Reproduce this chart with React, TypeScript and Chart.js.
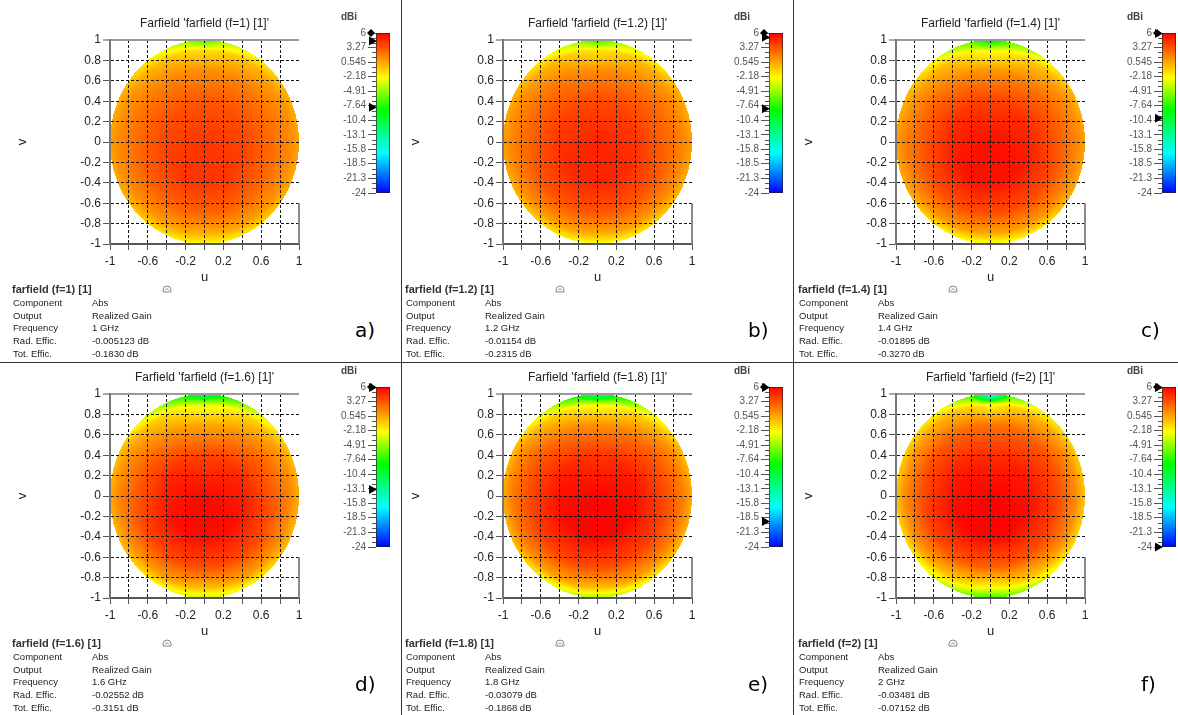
import React, { useEffect, useRef } from 'react';
import { Chart, registerables } from 'chart.js';

Chart.register(...registerables);

// ---------------- data ----------------
const frequencies = ['1', '1.2', '1.4', '1.6', '1.8', '2'];
const frequencyLabels = ['1 GHz', '1.2 GHz', '1.4 GHz', '1.6 GHz', '1.8 GHz', '2 GHz'];
const radEfficiency = ['-0.005123 dB', '-0.01154 dB', '-0.01895 dB', '-0.02552 dB', '-0.03079 dB', '-0.03481 dB'];
const totEfficiency = ['-0.1830 dB', '-0.2315 dB', '-0.3270 dB', '-0.3151 dB', '-0.1868 dB', '-0.07152 dB'];
const panelLetters = ['a)', 'b)', 'c)', 'd)', 'e)', 'f)'];

const uTickValues = [-1, -0.8, -0.6, -0.4, -0.2, 0, 0.2, 0.4, 0.6, 0.8, 1];
const uTickLabels = ['-1', '', '-0.6', '', '-0.2', '', '0.2', '', '0.6', '', '1'];
const vTickValues = [-1, -0.8, -0.6, -0.4, -0.2, 0, 0.2, 0.4, 0.6, 0.8, 1];
const vTickLabels = ['-1', '-0.8', '-0.6', '-0.4', '-0.2', '0', '0.2', '0.4', '0.6', '0.8', '1'];

const colorbarMin = -24;
const colorbarMax = 6;
const colorbarTickValues = [6, 3.27, 0.545, -2.18, -4.91, -7.64, -10.4, -13.1, -15.8, -18.5, -21.3, -24];
const colorbarTickLabels = ['6', '3.27', '0.545', '-2.18', '-4.91', '-7.64', '-10.4', '-13.1', '-15.8', '-18.5', '-21.3', '-24'];

// max / min markers shown on the colour bar (dBi)
const gainMaxMarker = [4.5, 5.2, 5.9, 5.9, 5.9, 5.9];
const gainMinMarker = [-7.9, -8.2, -10.0, -13.2, -19.2, -24];

// gain samples (dBi) on rings of the u-v disk
const sampleRadii = [0.4, 0.7, 0.9, 1.0];
const sampleAnglesDeg = [0, 30, 60, 78, 90, 102, 120, 150, 180, 210, 240, 270, 300, 330];
const gainCentre = [4.3, 4.9, 5.6, 5.8, 5.9, 6.0];

const gainF10 = [
  [3.8, 3.5, 3.3, 3.2, 3.2, 3.2, 3.3, 3.5, 3.8, 4.1, 4.3, 4.3, 4.3, 4.1],
  [2.5, 2.2, 1.7, 1.4, 1.3, 1.4, 1.7, 2.2, 2.5, 2.8, 2.8, 2.7, 2.8, 2.7],
  [1.6, 1.1, -0.2, -1.1, -1.5, -1.1, -0.2, 1.1, 1.6, 1.4, 0.8, 0.1, 0.8, 1.4],
  [0.7, 0.0, -2.6, -4.6, -7.5, -4.6, -2.6, 0.0, 0.7, 0.2, -1.5, -2.6, -1.5, 0.2],
];
const gainF12 = [
  [4.3, 4.0, 3.7, 3.6, 3.6, 3.6, 3.7, 4.0, 4.3, 4.6, 4.8, 4.8, 4.8, 4.6],
  [2.8, 2.5, 1.9, 1.5, 1.4, 1.5, 1.9, 2.5, 2.8, 3.2, 3.2, 3.1, 3.2, 3.2],
  [1.7, 1.2, -0.1, -1.2, -1.7, -1.2, -0.1, 1.2, 1.7, 1.5, 0.9, 0.2, 0.9, 1.5],
  [0.8, 0.0, -2.8, -4.8, -8.0, -4.8, -2.8, 0.0, 0.8, 0.1, -1.7, -2.8, -1.7, 0.1],
];
const gainF14 = [
  [4.9, 4.6, 4.1, 3.9, 3.9, 3.9, 4.1, 4.6, 4.9, 5.3, 5.5, 5.5, 5.5, 5.3],
  [3.2, 2.7, 1.7, 1.2, 1.0, 1.2, 1.7, 2.7, 3.2, 3.6, 3.5, 3.4, 3.5, 3.6],
  [1.8, 1.1, -0.6, -2.2, -2.9, -2.2, -0.6, 1.1, 1.8, 1.6, 1.0, 0.3, 1.0, 1.6],
  [0.8, -0.2, -3.6, -6.3, -10.0, -6.3, -3.6, -0.2, 0.8, 0.2, -1.9, -3.2, -1.9, 0.2],
];
const gainF16 = [
  [5.1, 4.7, 4.1, 3.8, 3.8, 3.8, 4.1, 4.7, 5.1, 5.5, 5.7, 5.7, 5.7, 5.5],
  [3.2, 2.6, 1.3, 0.6, 0.4, 0.6, 1.3, 2.6, 3.2, 3.7, 3.6, 3.4, 3.6, 3.7],
  [1.7, 0.9, -1.1, -2.6, -3.4, -2.6, -1.1, 0.9, 1.7, 1.4, 0.7, -0.3, 0.7, 1.4],
  [0.3, -0.6, -4.6, -8.3, -13.0, -8.3, -4.6, -0.6, 0.3, -0.2, -2.5, -4.0, -2.5, -0.2],
];
const gainF18 = [
  [5.5, 5.1, 4.6, 4.3, 4.3, 4.3, 4.6, 5.1, 5.5, 5.8, 5.9, 5.9, 5.9, 5.8],
  [3.7, 3.2, 2.0, 1.4, 1.2, 1.4, 2.0, 3.2, 3.7, 4.0, 3.7, 3.5, 3.7, 4.0],
  [2.0, 1.3, -0.8, -2.3, -2.9, -2.3, -0.8, 1.3, 2.0, 1.7, 0.7, -0.3, 0.7, 1.7],
  [0.4, -0.4, -4.1, -8.8, -14.0, -8.8, -4.1, -0.4, 0.4, -0.2, -3.0, -4.8, -3.0, -0.2],
];
const gainF20 = [
  [5.5, 5.2, 4.8, 4.6, 4.6, 4.6, 4.8, 5.2, 5.5, 5.8, 5.9, 5.9, 5.9, 5.8],
  [3.7, 3.4, 2.7, 2.3, 2.2, 2.3, 2.7, 3.4, 3.7, 3.8, 3.2, 2.7, 3.2, 3.8],
  [1.5, 1.1, 0.0, -1.3, -2.8, -1.3, 0.0, 1.1, 1.5, 1.1, -0.6, -2.6, -0.6, 1.1],
  [-0.5, -1.0, -2.6, -6.8, -20.0, -6.8, -2.6, -1.0, -0.5, -1.5, -4.0, -7.3, -4.0, -1.5],
];
const gainRings = [gainF10, gainF12, gainF14, gainF16, gainF18, gainF20];

// ---------------- styling ----------------
const FONT = '"Liberation Sans", Arial, sans-serif';
const cmapStops = [0, 0.25, 0.52, 0.72, 0.86, 1];
const cmapColors = [
  [0, 0, 255],
  [0, 255, 255],
  [0, 255, 0],
  [255, 255, 0],
  [255, 128, 0],
  [255, 0, 0],
];

const colLeft = [0, 393, 786];
const rowTop = [0, 354];

function colorFor(val: number): number[] {
  let f = (val - colorbarMin) / (colorbarMax - colorbarMin);
  f = Math.max(0, Math.min(1, f));
  for (let i = 0; i < cmapStops.length - 1; i++) {
    if (f <= cmapStops[i + 1]) {
      const t = (f - cmapStops[i]) / (cmapStops[i + 1] - cmapStops[i]);
      const a = cmapColors[i];
      const b = cmapColors[i + 1];
      return [a[0] + (b[0] - a[0]) * t, a[1] + (b[1] - a[1]) * t, a[2] + (b[2] - a[2]) * t];
    }
  }
  return cmapColors[cmapColors.length - 1];
}

function sampleGain(centre: number, rings: number[][], u: number, v: number): number {
  const r = Math.hypot(u, v);
  let th = (Math.atan2(v, u) * 180) / Math.PI;
  if (th < 0) th += 360;
  const A = sampleAnglesDeg;
  const n = A.length;
  let k = n - 1;
  for (let i = 0; i < n - 1; i++) {
    if (th >= A[i] && th < A[i + 1]) {
      k = i;
      break;
    }
  }
  const a0 = A[k];
  const a1 = k === n - 1 ? 360 : A[k + 1];
  const t = (th - a0) / (a1 - a0);
  const k1 = (k + 1) % n;
  const radii = [0, ...sampleRadii];
  const vals = [centre, ...rings.map((row) => row[k] * (1 - t) + row[k1] * t)];
  for (let j = 0; j < radii.length - 1; j++) {
    if (r <= radii[j + 1]) {
      const s = (r - radii[j]) / (radii[j + 1] - radii[j]);
      return vals[j] * (1 - s) + vals[j + 1] * s;
    }
  }
  return vals[vals.length - 1];
}

function makeHeatmapPlugin(index: number) {
  return {
    id: 'uvHeatmap',
    beforeDraw(chart: any) {
      const { ctx, chartArea, scales } = chart;
      const xs = scales.x;
      const ys = scales.y;
      const left = Math.floor(chartArea.left);
      const top = Math.floor(chartArea.top);
      const w = Math.ceil(chartArea.right) - left;
      const h = Math.ceil(chartArea.bottom) - top;
      const off = document.createElement('canvas');
      off.width = w;
      off.height = h;
      const octx = off.getContext('2d')!;
      const img = octx.createImageData(w, h);
      const centre = gainCentre[index];
      const rings = gainRings[index];
      for (let py = 0; py < h; py++) {
        const v = ys.getValueForPixel(top + py + 0.5);
        for (let px = 0; px < w; px++) {
          const u = xs.getValueForPixel(left + px + 0.5);
          if (u * u + v * v > 1) continue;
          const c = colorFor(sampleGain(centre, rings, u, v));
          const o = (py * w + px) * 4;
          img.data[o] = c[0];
          img.data[o + 1] = c[1];
          img.data[o + 2] = c[2];
          img.data[o + 3] = 255;
        }
      }
      octx.putImageData(img, 0, 0);
      ctx.drawImage(off, left, top);
    },
    afterDraw(chart: any) {
      const { ctx, scales } = chart;
      const x = Math.round(scales.x.getPixelForValue(1));
      ctx.save();
      ctx.strokeStyle = '#8a8a8a';
      ctx.lineWidth = 2;
      ctx.beginPath();
      ctx.moveTo(x, scales.y.getPixelForValue(-0.6));
      ctx.lineTo(x, scales.y.getPixelForValue(-1));
      ctx.stroke();
      ctx.restore();
    },
  };
}

function isEdge(c: any) {
  return c.type === 'tick' && c.tick && Math.abs(c.tick.value) > 0.999;
}

function FarfieldPlot({ index }: { index: number }) {
  const ref = useRef<HTMLCanvasElement>(null);
  useEffect(() => {
    const tickFont = { family: FONT, size: 12 };
    const chart = new Chart(ref.current!, {
      type: 'scatter',
      data: { datasets: [] },
      options: {
        animation: false,
        responsive: false,
        maintainAspectRatio: false,
        events: [],
        layout: { padding: { left: 0, right: 19, top: 0, bottom: 0 } },
        plugins: {
          legend: { display: false },
          tooltip: { enabled: false },
          title: {
            display: true,
            text: `Farfield 'farfield (f=${frequencies[index]}) [1]'`,
            fullSize: false,
            color: '#222',
            font: { family: FONT, size: 12, weight: 'normal' },
            padding: { top: 16.3, bottom: 9.3 },
          },
        },
        scales: {
          x: {
            type: 'linear',
            min: -1,
            max: 1,
            position: 'bottom',
            afterBuildTicks: (s: any) => {
              s.ticks = uTickValues.map((value) => ({ value }));
            },
            afterFit: (s: any) => {
              s.height = 46;
            },
            ticks: {
              autoSkip: false,
              maxRotation: 0,
              padding: 4,
              color: '#222',
              font: tickFont,
              callback: (_v: any, i: number) => uTickLabels[i],
            },
            grid: {
              color: (c: any) => (c.tick && c.tick.value > 0.999 ? 'rgba(0,0,0,0)' : '#111'),
              lineWidth: 1,
              drawTicks: true,
              tickLength: 6,
              tickWidth: 1,
              tickColor: '#555',
            },
            border: {
              display: true,
              color: '#555',
              width: 2,
              dash: (c: any) => (c.type === 'tick' && !isEdge(c) ? [3, 2] : []),
            },
            title: {
              display: true,
              text: 'u',
              color: '#222',
              font: { family: FONT, size: 13 },
              padding: { top: 0, bottom: 5 },
            },
          },
          y: {
            type: 'linear',
            min: -1,
            max: 1,
            position: 'left',
            afterBuildTicks: (s: any) => {
              s.ticks = vTickValues.map((value) => ({ value }));
            },
            afterFit: (s: any) => {
              s.width = 110;
            },
            ticks: {
              autoSkip: false,
              padding: 2,
              color: '#222',
              font: tickFont,
              callback: (_v: any, i: number) => vTickLabels[i],
            },
            grid: {
              color: (c: any) => (c.tick && c.tick.value > 0.999 ? '#999' : '#111'),
              lineWidth: (c: any) => (c.tick && c.tick.value > 0.999 ? 2 : 1),
              drawTicks: true,
              tickLength: 7,
              tickWidth: 1,
              tickColor: '#555',
            },
            border: {
              display: true,
              color: '#777',
              width: 2,
              dash: (c: any) => (c.type === 'tick' && !isEdge(c) ? [3, 2] : []),
            },
            title: {
              display: true,
              text: 'v',
              color: '#222',
              font: { family: FONT, size: 13 },
              padding: { top: 15, bottom: 0 },
            },
          },
        },
      } as any,
      plugins: [makeHeatmapPlugin(index)],
    });
    return () => chart.destroy();
  }, [index]);
  return (
    <canvas
      ref={ref}
      width={318}
      height={290}
      style={{ position: 'absolute', left: 0, top: 0, width: 318, height: 290 }}
    />
  );
}

function barGradient(chart: any) {
  const { ctx, chartArea, scales } = chart;
  if (!chartArea || !scales.y) return '#f00';
  const y0 = scales.y.getPixelForValue(colorbarMin);
  const y1 = scales.y.getPixelForValue(colorbarMax);
  const g = ctx.createLinearGradient(0, y0, 0, y1);
  cmapStops.forEach((s, i) => {
    const c = cmapColors[i];
    g.addColorStop(s, `rgb(${c[0]},${c[1]},${c[2]})`);
  });
  return g;
}

function makeColorbarPlugin(index: number) {
  return {
    id: 'cbMarkers',
    afterDraw(chart: any) {
      const { ctx, chartArea, scales } = chart;
      const ys = scales.y;
      const x0 = chartArea.left;
      ctx.save();
      ctx.strokeStyle = '#555';
      ctx.lineWidth = 1;
      for (let i = 0; i < colorbarTickValues.length - 1; i++) {
        const a = colorbarTickValues[i];
        const b = colorbarTickValues[i + 1];
        for (let k = 1; k < 3; k++) {
          const y = Math.round(ys.getPixelForValue(a + ((b - a) * k) / 3)) + 0.5;
          ctx.beginPath();
          ctx.moveTo(x0 - 4, y);
          ctx.lineTo(x0, y);
          ctx.stroke();
        }
      }
      ctx.fillStyle = '#000';
      const drawArrow = (val: number) => {
        const y = ys.getPixelForValue(val);
        ctx.beginPath();
        ctx.moveTo(x0 + 1, y);
        ctx.lineTo(x0 - 7, y - 4.5);
        ctx.lineTo(x0 - 7, y + 4.5);
        ctx.closePath();
        ctx.fill();
      };
      drawArrow(gainMaxMarker[index]);
      drawArrow(gainMinMarker[index]);
      const yt = ys.getPixelForValue(colorbarMax);
      ctx.beginPath();
      ctx.moveTo(x0 - 5, yt - 4);
      ctx.lineTo(x0 - 1, yt);
      ctx.lineTo(x0 - 5, yt + 4);
      ctx.lineTo(x0 - 9, yt);
      ctx.closePath();
      ctx.fill();
      ctx.restore();
    },
  };
}

function Colorbar({ index }: { index: number }) {
  const ref = useRef<HTMLCanvasElement>(null);
  useEffect(() => {
    const chart = new Chart(ref.current!, {
      type: 'bar',
      data: {
        labels: ['dBi'],
        datasets: [
          {
            data: [[colorbarMin, colorbarMax]],
            backgroundColor: (c: any) => barGradient(c.chart),
            borderColor: '#222',
            borderWidth: 1,
            borderSkipped: false,
            barPercentage: 1,
            categoryPercentage: 1,
          },
        ],
      },
      options: {
        animation: false,
        responsive: false,
        maintainAspectRatio: false,
        events: [],
        layout: { padding: { left: 0, right: 10, top: 33, bottom: 12 } },
        plugins: { legend: { display: false }, tooltip: { enabled: false } },
        scales: {
          x: { display: false },
          y: {
            type: 'linear',
            min: colorbarMin,
            max: colorbarMax,
            afterBuildTicks: (s: any) => {
              s.ticks = colorbarTickValues.map((value) => ({ value }));
            },
            afterFit: (s: any) => {
              s.width = 56;
            },
            ticks: {
              autoSkip: false,
              padding: 2,
              color: '#555',
              font: { family: FONT, size: 10 },
              callback: (_v: any, i: number) => colorbarTickLabels[i],
            },
            grid: { drawOnChartArea: false, drawTicks: true, tickLength: 8, color: '#555' },
            border: { display: false },
          },
        },
      } as any,
      plugins: [makeColorbarPlugin(index)],
    });
    return () => chart.destroy();
  }, [index]);
  return (
    <canvas
      ref={ref}
      width={80}
      height={205}
      style={{ position: 'absolute', left: 320, top: 0, width: 80, height: 205 }}
    />
  );
}

function CollapseIcon() {
  return (
    <svg width="10" height="8" viewBox="0 0 10 8" style={{ position: 'absolute', left: 162, top: 285 }}>
      <path d="M1 7 L1 5 A4 4 0 0 1 9 5 L9 7 Z" fill="none" stroke="#888" strokeWidth="1" />
      <path d="M3 5.5 L5 3.5 L7 5.5" fill="none" stroke="#888" strokeWidth="1" />
    </svg>
  );
}

function Panel({ index }: { index: number }) {
  const col = index % 3;
  const row = Math.floor(index / 3);
  const infoLabels = ['Component', 'Output', 'Frequency', 'Rad. Effic.', 'Tot. Effic.'];
  const infoValues = ['Abs', 'Realized Gain', frequencyLabels[index], radEfficiency[index], totEfficiency[index]];
  return (
    <div style={{ position: 'absolute', left: colLeft[col], top: rowTop[row], width: 400, height: 360 }}>
      <FarfieldPlot index={index} />
      <Colorbar index={index} />
      <div
        style={{
          position: 'absolute',
          left: 333,
          top: 10,
          width: 32,
          textAlign: 'center',
          font: `bold 10px ${FONT}`,
          color: '#444',
          lineHeight: '14px',
        }}
      >
        dBi
      </div>
      <div
        style={{
          position: 'absolute',
          left: 12,
          top: 282,
          font: `bold 11px ${FONT}`,
          color: '#333',
          lineHeight: '14px',
          whiteSpace: 'nowrap',
        }}
      >
        {`farfield (f=${frequencies[index]}) [1]`}
      </div>
      <CollapseIcon />
      {infoLabels.map((lab, i) => (
        <React.Fragment key={lab}>
          <div
            style={{
              position: 'absolute',
              left: 13,
              top: 297 + i * 12.7,
              font: `9.5px ${FONT}`,
              color: '#222',
              lineHeight: '12.7px',
              whiteSpace: 'nowrap',
            }}
          >
            {lab}
          </div>
          <div
            style={{
              position: 'absolute',
              left: 92,
              top: 297 + i * 12.7,
              font: `9.5px ${FONT}`,
              color: '#222',
              lineHeight: '12.7px',
              whiteSpace: 'nowrap',
            }}
          >
            {infoValues[i]}
          </div>
        </React.Fragment>
      ))}
      <div
        style={{
          position: 'absolute',
          left: 355,
          top: 317,
          font: '20px "DejaVu Sans", sans-serif',
          color: '#000',
          lineHeight: '26px',
        }}
      >
        {panelLetters[index]}
      </div>
    </div>
  );
}

export default function App() {
  useEffect(() => {
    document.body.style.margin = '0';
  }, []);
  return (
    <div style={{ position: 'relative', width: 1178, height: 715, background: '#fff', overflow: 'hidden' }}>
      <style>{'body{margin:0;}'}</style>
      {[0, 1, 2, 3, 4, 5].map((i) => (
        <Panel key={i} index={i} />
      ))}
      <div style={{ position: 'absolute', left: 401, top: 0, width: 1, height: 715, background: '#333' }} />
      <div style={{ position: 'absolute', left: 793, top: 0, width: 1, height: 715, background: '#333' }} />
      <div style={{ position: 'absolute', left: 0, top: 362, width: 1178, height: 1, background: '#333' }} />
    </div>
  );
}
